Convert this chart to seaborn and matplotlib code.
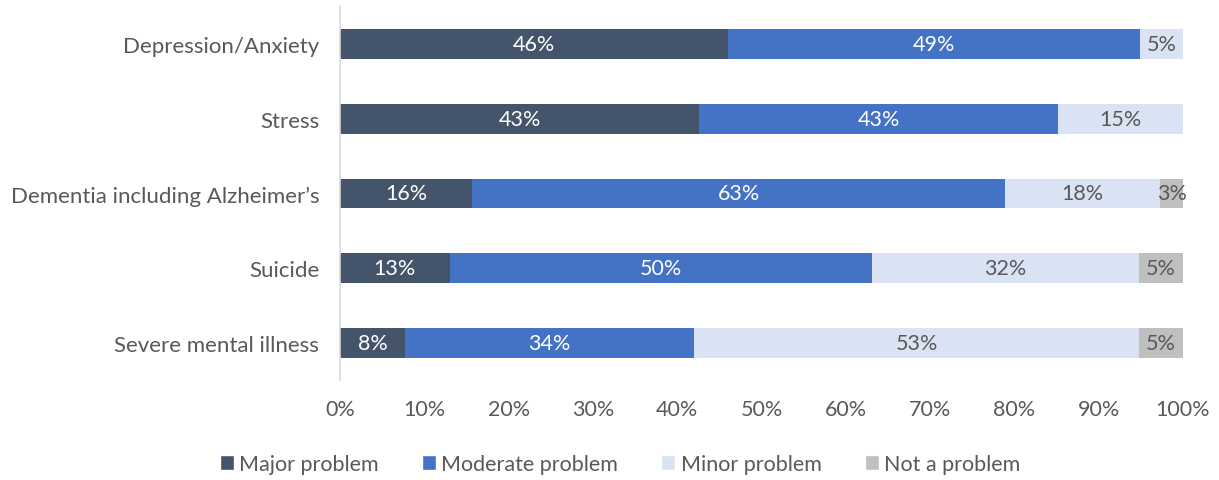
import pandas as pd
import matplotlib.pyplot as plt
from matplotlib.patches import Patch
import seaborn as sns

# ------------------------------------------ DATA ------------------------------------------------#
issues = ['Depression/Anxiety', 'Stress', 'Dementia including Alzheimer\u2019s', 'Suicide', 'Severe mental illness']
major = [46.0, 42.6, 15.7, 13.0, 7.7]
moderate = [48.9, 42.6, 63.2, 50.1, 34.3]
minor = [5.1, 14.8, 18.4, 31.7, 52.8]
not_problem = [0.0, 0.0, 2.7, 5.2, 5.2]

series_names = ['Major problem', 'Moderate problem', 'Minor problem', 'Not a problem']
colors = ['#44546A', '#4472C4', '#DAE3F3', '#BFBFBF']
text_colors = ['white', 'white', '#595959', '#595959']
x_ticks = [0, 10, 20, 30, 40, 50, 60, 70, 80, 90, 100]

# ------------------------------------------ PLOT ------------------------------------------------#
sns.set_style('white')
plt.rcParams['font.family'] = ['Lato', 'DejaVu Sans']

df = pd.DataFrame({'issue': issues, series_names[0]: major, series_names[1]: moderate,
                   series_names[2]: minor, series_names[3]: not_problem})
cum = df[series_names].cumsum(axis=1)

fig = plt.figure(figsize=(12.19, 4.81), dpi=100)
ax = fig.add_axes([340 / 1219, 1 - 381.5 / 481, (1183 - 340) / 1219, (381.5 - 7.5) / 481])

# draw cumulative totals from the outermost segment inwards so each covers the previous
for i in range(len(series_names) - 1, -1, -1):
    sns.barplot(x=cum[series_names[i]], y=df['issue'], orient='h', color=colors[i],
                width=0.4, saturation=1, ax=ax, linewidth=0)

for i, name in enumerate(series_names):
    starts = cum[name] - df[name]
    for j, val in enumerate(df[name]):
        if val <= 0:
            continue
        ax.text(starts[j] + val / 2, j, '{:.0f}%'.format(val), ha='center', va='center',
                fontsize=15.5, color=text_colors[i])

ax.set_xlim(0, 100)
ax.set_ylim(len(issues) - 0.5, -0.5)
ax.set_xticks(x_ticks)
ax.set_xticklabels(['{}%'.format(t) for t in x_ticks])
ax.set_xlabel('')
ax.set_ylabel('')
ax.tick_params(axis='x', colors='#595959', labelsize=15.5, length=0, pad=13)
ax.tick_params(axis='y', colors='#595959', labelsize=16, length=0, pad=15)
for s in ['top', 'right', 'bottom']:
    ax.spines[s].set_visible(False)
ax.spines['left'].set_color('#D9D9D9')
ax.spines['left'].set_linewidth(1.2)

legend_elements = [Patch(facecolor=c, label=n) for c, n in zip(colors, series_names)]
fig.legend(handles=legend_elements, loc='center', bbox_to_anchor=(620 / 1219, 1 - 465 / 481),
           ncol=4, frameon=False, fontsize=15.5, labelcolor='#595959', handlelength=0.65,
           handleheight=0.65, handletextpad=0.25, columnspacing=2.0)

plt.savefig('out.png', dpi=100)
